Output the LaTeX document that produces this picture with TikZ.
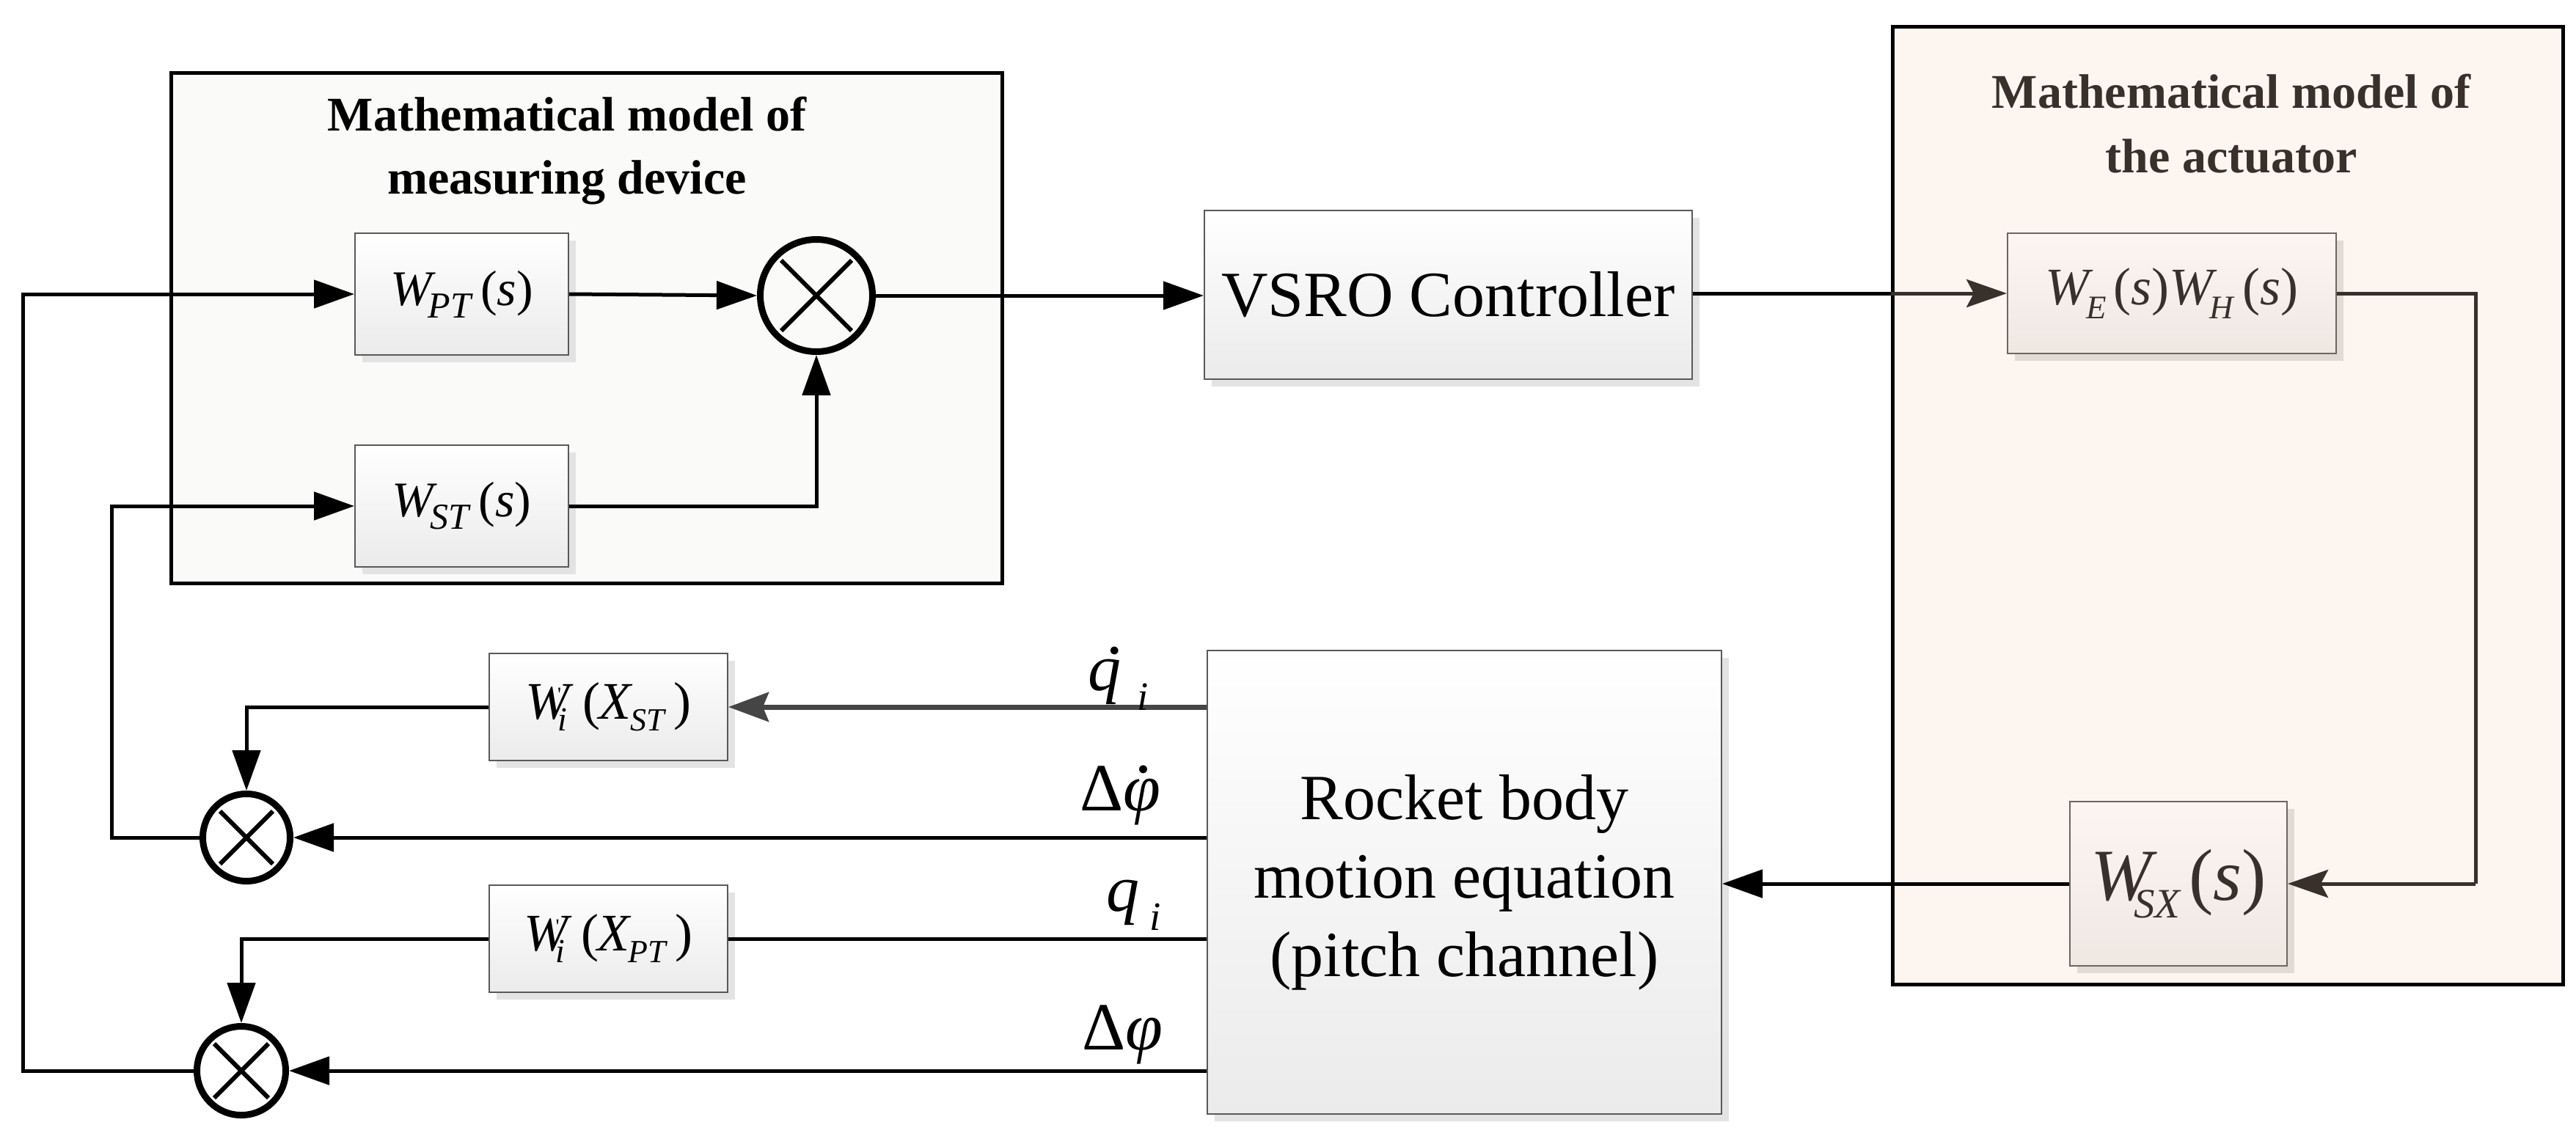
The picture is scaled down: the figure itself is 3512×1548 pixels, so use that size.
\documentclass[tikz,border=0pt]{standalone}
\usepackage{fontspec}
\setmainfont{Liberation Serif}
\usetikzlibrary{arrows.meta,shadows,calc}
\definecolor{measfill}{HTML}{FAFAF8}
\definecolor{actfill}{HTML}{FDF5F0}
\definecolor{boxbot}{HTML}{EBEBEB}
\definecolor{boxline}{HTML}{595959}
\definecolor{shad}{HTML}{E3E3E3}
\definecolor{abrown}{HTML}{3A302B}
\definecolor{aboxtop}{HTML}{FCF6F2}
\definecolor{aboxbot}{HTML}{EFE7E2}
\definecolor{aboxline}{HTML}{6E6560}
\definecolor{ashad}{HTML}{E2DAD5}
\definecolor{qgray}{HTML}{454545}
\newcommand\fs[1]{\fontsize{#1}{#1}\selectfont}
\newcommand\dotat[3]{\rlap{\kern#1\raisebox{#2}{.}}#3}
\newcommand\xcross[2]{\draw[line width=6pt] ($(#1.center)+(-#2,-#2)$) -- ($(#1.center)+(#2,#2)$) ($(#1.center)+(-#2,#2)$) -- ($(#1.center)+(#2,-#2)$);}
\begin{document}
\begin{tikzpicture}[x=1pt,y=-1pt,
  every node/.style={inner sep=0pt},
  blk/.style={draw=boxline, line width=2pt, top color=white, bottom color=boxbot,
    drop shadow={shadow xshift=10pt,shadow yshift=-10pt,fill=shad,opacity=1}},
  ablk/.style={draw=aboxline, line width=2pt, top color=aboxtop, bottom color=aboxbot, text=abrown,
    drop shadow={shadow xshift=10pt,shadow yshift=-10pt,fill=ashad,opacity=1}},
  cont/.style={draw=black, line width=5pt},
  mulc/.style={circle, draw=black, line width=9pt},
  conn/.style={line width=5pt, draw=black},
  arr/.style={conn, -{Triangle[length=55pt,width=38pt]}},
  aarr/.style={line width=5pt, draw=abrown, -{Stealth[length=55pt,width=38pt,inset=10pt]}},
  garr/.style={line width=7pt, draw=qgray, -{Stealth[length=55pt,width=40pt,inset=8pt]}},
  lbl/.style={anchor=base west}
]
\useasboundingbox (0,0) rectangle (3512,1548);
\fill[white] (0,0) rectangle (3512,1548);

% containers
\node[cont, fill=measfill, minimum width=1133pt, minimum height=696pt] (meas) at (799.5,447) {};
\node[cont, fill=actfill, minimum width=914pt, minimum height=1306pt] (act) at (3037,689) {};
\node[font=\fontsize{66}{86}\selectfont\bfseries, align=center] (meastitle) at (773,206) {Mathematical model of\\measuring device};
\node[font=\fontsize{66}{88}\selectfont\bfseries, align=center, text=abrown] (acttitle) at (3042,169) {Mathematical model of\\the actuator};

% blocks
\node[blk, minimum width=291pt, minimum height=166pt] (wpt) at (629.5,401)
  {\fs{68}\textit{W}\kern-10pt\raisebox{-17pt}{\fs{50}\textit{PT}}\kern10pt(\textit{s})};
\node[blk, minimum width=291pt, minimum height=166pt] (wst) at (629.5,690)
  {\fs{68}\textit{W}\kern-10pt\raisebox{-17pt}{\fs{50}\textit{ST}}\kern10pt(\textit{s})};
\node[mulc, minimum size=153pt] (mult) at (1113,403) {};
\node[blk, minimum width=665pt, minimum height=230pt, font=\fs{88}] (vsro) at (1974.5,402) {VSRO Controller};
\node[ablk, minimum width=448pt, minimum height=164pt] (weh) at (2961,400)
  {\fs{72}\textit{W}\kern-10pt\raisebox{-19pt}{\fs{45}\textit{E}}\kern10pt(\textit{s})\textit{W}\kern-10pt\raisebox{-19pt}{\fs{45}\textit{H}}\kern10pt(\textit{s})};
\node[ablk, minimum width=296pt, minimum height=224pt] (wsx) at (2970,1205)
  {\fs{100}\textit{W}\kern-32pt\raisebox{-24pt}{\fs{57}\textit{SX}}\kern10pt(\textit{s})};
\node[blk, minimum width=701pt, minimum height=632pt, font=\fontsize{88}{107}\selectfont, align=center] (rocket) at (1996.5,1203)
  {Rocket body\\motion equation\\(pitch channel)};
\node[blk, minimum width=325pt, minimum height=146pt] (wsti) at (829.5,964)
  {\fs{72}\textit{W}\kern-22pt\rlap{\raisebox{24pt}{\fs{28}\textquotesingle}}\raisebox{-16pt}{\fs{46}\textit{i}}\kern22pt(\kern-2pt\textit{X}\kern-4pt\raisebox{-16pt}{\fs{44}\textit{ST}}\kern10pt)};
\node[blk, minimum width=325pt, minimum height=146pt] (wpti) at (829.5,1280)
  {\fs{72}\textit{W}\kern-22pt\rlap{\raisebox{24pt}{\fs{28}\textquotesingle}}\raisebox{-16pt}{\fs{46}\textit{i}}\kern22pt(\kern-2pt\textit{X}\kern-4pt\raisebox{-16pt}{\fs{44}\textit{PT}}\kern10pt)};
\node[mulc, minimum size=119pt] (c1) at (336,1142) {};
\node[mulc, minimum size=121pt] (c2) at (329,1460) {};
\xcross{mult}{48}
\xcross{c1}{36}
\xcross{c2}{37}

% helper coordinates
\coordinate (fbR) at (3375,1205);
\coordinate (l1) at (152,1142);
\coordinate (l2) at (31,1460);

% connectors
\draw[arr] (wpt.east) -- (mult.west);
\draw[arr] (wst.east) -| (mult.south);
\draw[arr] (mult.east) -- (mult.east -| vsro.west);
\draw[conn] (vsro.east |- weh.west) -- (act.west |- weh.west);
\draw[aarr] (act.west |- weh.west) -- (weh.west);
\draw[line width=5pt, draw=abrown] (weh.east) -| (fbR);
\draw[aarr] (fbR) -- (wsx.east);
\draw[arr] (wsx.west) -- (wsx.west -| rocket.east);
\draw[garr] (rocket.west |- wsti.east) -- (wsti.east);
\draw[arr] (wsti.west) -| (c1.north);
\draw[arr] (rocket.west |- c1.east) -- (c1.east);
\draw[arr] (c1.west) -- (l1) |- (wst.west);
\draw[conn] (rocket.west |- wpti.east) -- (wpti.east);
\draw[arr] (wpti.west) -| (c2.north);
\draw[arr] (rocket.west |- c2.east) -- (c2.east);
\draw[arr] (c2.west) -- (l2) |- (wpt.west);

% signal labels
\node[lbl] (lqd) at (1483,941) {\fs{90}\dotat{25pt}{50pt}{\textit{q}}\kern22pt\raisebox{-27pt}{\fs{55}\textit{i}}};
\node[lbl] (lpd) at (1472,1105) {\fs{92}Δ\dotat{16pt}{52pt}{\textit{φ}}};
\node[lbl] (lq) at (1508,1242) {\fs{90}\textit{q}\kern14pt\raisebox{-26pt}{\fs{55}\textit{i}}};
\node[lbl] (lp) at (1475,1431) {\fs{92}Δ\textit{φ}};
\end{tikzpicture}
\end{document}
